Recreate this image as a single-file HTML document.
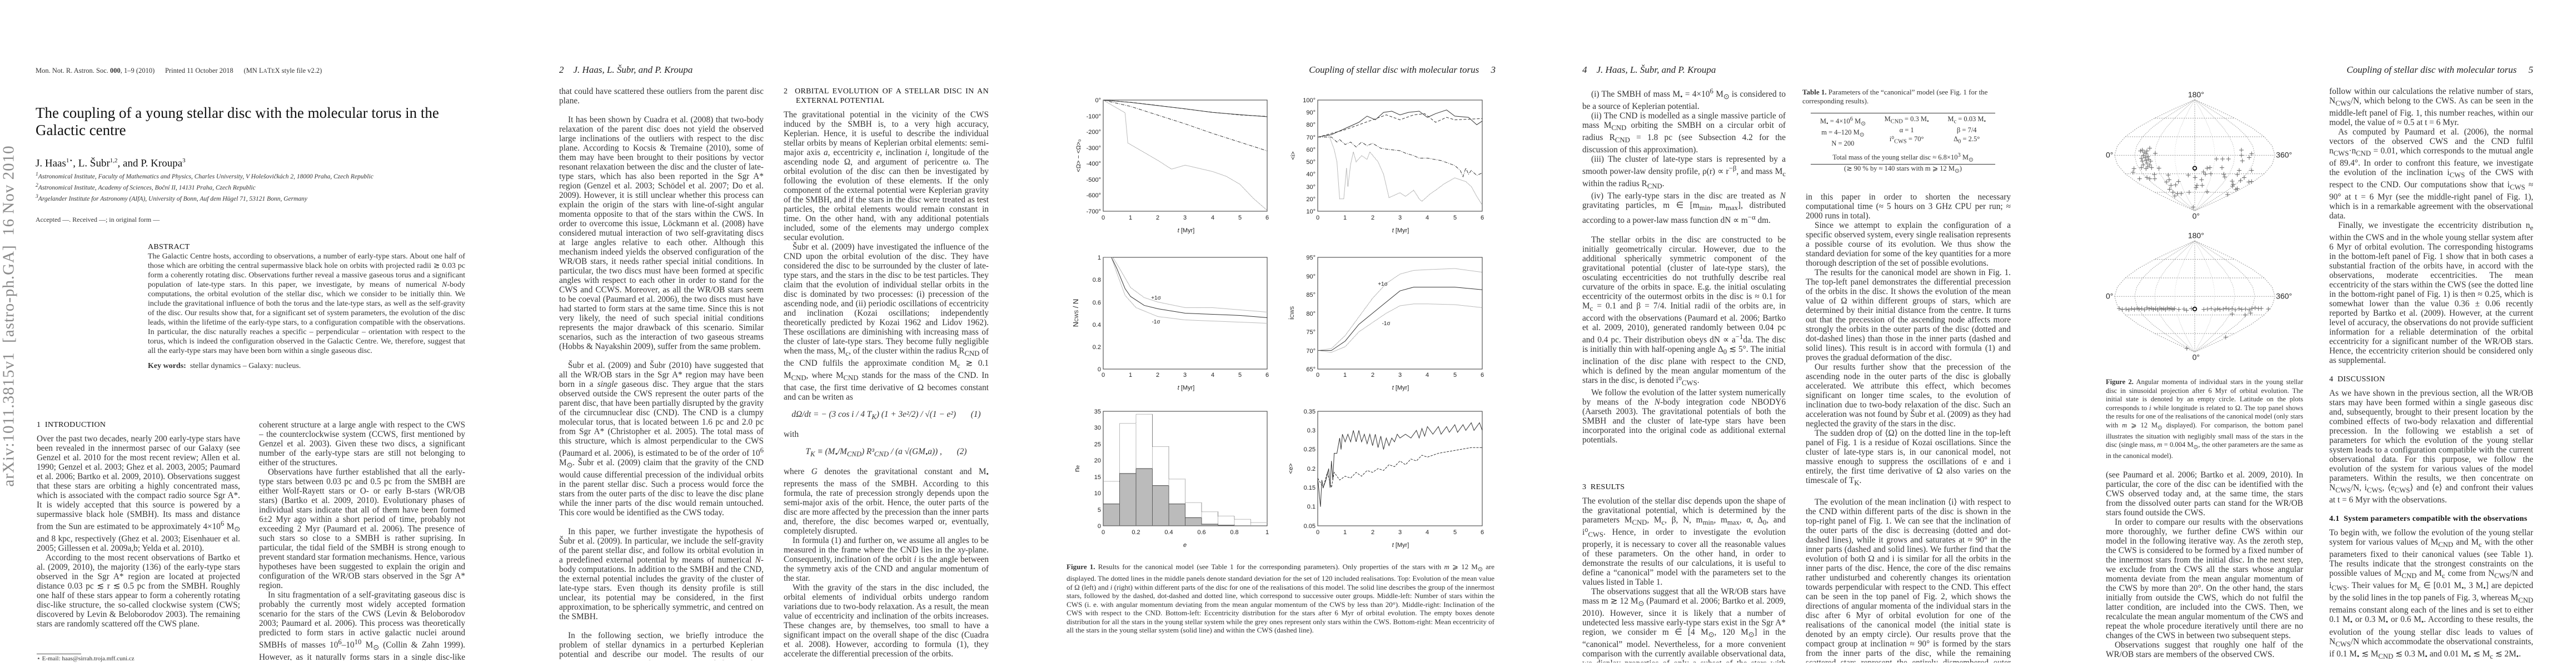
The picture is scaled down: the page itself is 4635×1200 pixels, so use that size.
<!DOCTYPE html>
<html style="width:4635px;height:1200px;overflow:hidden"><head><meta charset="utf-8">
<style>
*{margin:0;padding:0;box-sizing:border-box}
html,body{overflow:hidden}
body{width:4635px;height:1200px;background:#fff;position:relative;font-family:"Liberation Serif",serif;color:#222}
.pg{position:absolute;top:0;width:927px;height:1200px;overflow:hidden}
.ab{position:absolute}
.col{position:absolute;font-size:15.3px;line-height:17px;text-align:justify;overflow:hidden;color:#333}
.col p{text-indent:16px}
.col p.ni{text-indent:0}
.sec{font-size:14px;letter-spacing:0.3px;color:#111;margin:0 0 8px 0;text-indent:0!important}
.gap{height:17px}
.hdr{position:absolute;top:116px;font-size:17px;font-style:italic;color:#222;white-space:nowrap}
.eq{text-align:center;text-indent:0!important;margin:10px 0;font-style:italic}
.cap{position:absolute;font-size:13px;line-height:15.5px;text-align:justify;color:#333}
svg text{font-family:"Liberation Sans",sans-serif;fill:#222}
</style></head><body>

<!-- PAGE 1 -->
<div class="pg" style="left:0">
<div class="ab" style="left:64px;top:120px;font-size:12.5px;color:#333;white-space:nowrap">Mon. Not. R. Astron. Soc. <b>000</b>, 1–9 (2010) &nbsp;&nbsp;&nbsp;&nbsp; Printed 11 October 2018 &nbsp;&nbsp;&nbsp;&nbsp; (MN L<span style="font-size:10px">A</span>T<span style="font-size:10px">E</span>X style file v2.2)</div>
<div class="ab" style="left:64px;top:188px;font-size:27px;line-height:31px;color:#111;width:740px">The coupling of a young stellar disc with the molecular torus in the Galactic centre</div>
<div class="ab" style="left:64px;top:282px;font-size:19px;color:#111">J. Haas<sup style="font-size:11px">1⋆</sup>, L. Šubr<sup style="font-size:11px">1,2</sup>, and P. Kroupa<sup style="font-size:11px">3</sup></div>
<div class="ab" style="left:64px;top:306px;font-size:11.5px;line-height:15px;font-style:italic;color:#333;white-space:nowrap"><sup>1</sup>Astronomical Institute, Faculty of Mathematics and Physics, Charles University, V Holešovičkách 2, 18000 Praha, Czech Republic<br><sup>2</sup>Astronomical Institute, Academy of Sciences, Boční II, 14131 Praha, Czech Republic<br><sup>3</sup>Argelander Institute for Astronomy (AIfA), University of Bonn, Auf dem Hügel 71, 53121 Bonn, Germany</div>
<div class="ab" style="left:64px;top:388px;font-size:12px;color:#333">Accepted —. Received —; in original form —</div>
<div class="ab" style="left:16px;top:570px;width:0;height:0"><div style="position:absolute;left:-310px;top:-18px;width:620px;transform:rotate(-90deg);font-size:29px;color:#8a8a8a;white-space:nowrap;text-align:center;letter-spacing:1px">arXiv:1011.3815v1 &nbsp;[astro-ph.GA] &nbsp;16 Nov 2010</div></div>
<div class="col" style="left:266px;top:436px;width:571px;height:270px;font-size:14px">
<p class="sec">ABSTRACT</p>
<p class="ni" style="margin-top:-8px">The Galactic Centre hosts, according to observations, a number of early-type stars. About one half of those which are orbiting the central supermassive black hole on orbits with projected radii ≳ 0.03 pc form a coherently rotating disc. Observations further reveal a massive gaseous torus and a significant population of late-type stars. In this paper, we investigate, by means of numerical <i>N</i>-body computations, the orbital evolution of the stellar disc, which we consider to be initially thin. We include the gravitational influence of both the torus and the late-type stars, as well as the self-gravity of the disc. Our results show that, for a significant set of system parameters, the evolution of the disc leads, within the lifetime of the early-type stars, to a configuration compatible with the observations. In particular, the disc naturally reaches a specific – perpendicular – orientation with respect to the torus, which is indeed the configuration observed in the Galactic Centre. We, therefore, suggest that all the early-type stars may have been born within a single gaseous disc.</p>
<p class="ni" style="margin-top:10px"><b>Key words:</b> &nbsp;stellar dynamics – Galaxy: nucleus.</p>
</div>
<div class="col" style="left:66px;top:756px;width:366px;height:400px">
<p class="sec">1 &nbsp;INTRODUCTION</p>
<p class="ni">Over the past two decades, nearly 200 early-type stars have been revealed in the innermost parsec of our Galaxy (see Genzel et al. 2010 for the most recent review; Allen et al. 1990; Genzel et al. 2003; Ghez et al. 2003, 2005; Paumard et al. 2006; Bartko et al. 2009, 2010). Observations suggest that these stars are orbiting a highly concentrated mass, which is associated with the compact radio source Sgr A*. It is widely accepted that this source is powered by a supermassive black hole (SMBH). Its mass and distance from the Sun are estimated to be approximately 4×10<sup>6</sup> M<sub>⊙</sub> and 8 kpc, respectively (Ghez et al. 2003; Eisenhauer et al. 2005; Gillessen et al. 2009a,b; Yelda et al. 2010).</p>
<p>According to the most recent observations of Bartko et al. (2009, 2010), the majority (136) of the early-type stars observed in the Sgr A* region are located at projected distance 0.03 pc ≲ r ≲ 0.5 pc from the SMBH. Roughly one half of these stars appear to form a coherently rotating disc-like structure, the so-called clockwise system (CWS; discovered by Levin &amp; Beloborodov 2003). The remaining stars are randomly scattered off the CWS plane.</p>
</div>
<div class="ab" style="left:66px;top:1176px;width:80px;border-top:1px solid #555"></div>
<div class="ab" style="left:66px;top:1179px;font-size:11px;line-height:13px;color:#333">⋆ E-mail: haas@sirrah.troja.mff.cuni.cz</div>
<div class="col" style="left:466px;top:756px;width:371px;height:432px">
<p class="ni">coherent structure at a large angle with respect to the CWS – the counterclockwise system (CCWS, first mentioned by Genzel et al. 2003). Given these two discs, a significant number of the early-type stars are still not belonging to either of the structures.</p>
<p>Observations have further established that all the early-type stars between 0.03 pc and 0.5 pc from the SMBH are either Wolf-Rayett stars or O- or early B-stars (WR/OB stars) (Bartko et al. 2009, 2010). Evolutionary phases of individual stars indicate that all of them have been formed 6±2 Myr ago within a short period of time, probably not exceeding 2 Myr (Paumard et al. 2006). The presence of such stars so close to a SMBH is rather suprising. In particular, the tidal field of the SMBH is strong enough to prevent standard star formation mechanisms. Hence, various hypotheses have been suggested to explain the origin and configuration of the WR/OB stars observed in the Sgr A* region.</p>
<p>In situ fragmentation of a self-gravitating gaseous disc is probably the currently most widely accepted formation scenario for the stars of the CWS (Levin &amp; Beloborodov 2003; Paumard et al. 2006). This process was theoretically predicted to form stars in active galactic nuclei around SMBHs of masses 10<sup>6</sup>–10<sup>10</sup> M<sub>⊙</sub> (Collin &amp; Zahn 1999). However, as it naturally forms stars in a single disc-like structure, it fails to explain the origin of the stars observed outside the CWS.</p>
</div>
</div>

<!-- PAGE 2 -->
<div class="pg" style="left:927px">
<div class="hdr" style="left:79px">2 &nbsp;&nbsp;&nbsp;J. Haas, L. Šubr, and P. Kroupa</div>
<div class="col" style="left:79px;top:156px;width:368px;height:1032px">
<p class="ni">that could have scattered these outliers from the parent disc plane.</p>
<div class="gap"></div>
<p>It has been shown by Cuadra et al. (2008) that two-body relaxation of the parent disc does not yield the observed large inclinations of the outliers with respect to the disc plane. According to Kocsis &amp; Tremaine (2010), some of them may have been brought to their positions by vector resonant relaxation between the disc and the cluster of late-type stars, which has also been reported in the Sgr A* region (Genzel et al. 2003; Schödel et al. 2007; Do et al. 2009). However, it is still unclear whether this process can explain the origin of the stars with line-of-sight angular momenta opposite to that of the stars within the CWS. In order to overcome this issue, Löckmann et al. (2008) have considered mutual interaction of two self-gravitating discs at large angles relative to each other. Although this mechanism indeed yields the observed configuration of the WR/OB stars, it needs rather special initial conditions. In particular, the two discs must have been formed at specific angles with respect to each other in order to stand for the CWS and CCWS. Moreover, as all the WR/OB stars seem to be coeval (Paumard et al. 2006), the two discs must have had started to form stars at the same time. Since this is not very likely, the need of such special initial conditions represents the major drawback of this scenario. Similar scenarios, such as the interaction of two gaseous streams (Hobbs &amp; Nayakshin 2009), suffer from the same problem.</p>
<div class="gap"></div>
<p>Šubr et al. (2009) and Šubr (2010) have suggested that all the WR/OB stars in the Sgr A* region may have been born in a <i>single</i> gaseous disc. They argue that the stars observed outside the CWS represent the outer parts of the parent disc, that have been partially disrupted by the gravity of the circumnuclear disc (CND). The CND is a clumpy molecular torus, that is located between 1.6 pc and 2.0 pc from Sgr A* (Christopher et al. 2005). The total mass of this structure, which is almost perpendicular to the CWS (Paumard et al. 2006), is estimated to be of the order of 10<sup>6</sup> M<sub>⊙</sub>. Šubr et al. (2009) claim that the gravity of the CND would cause differential precession of the individual orbits in the parent stellar disc. Such a process would force the stars from the outer parts of the disc to leave the disc plane while the inner parts of the disc would remain untouched. This core would be identified as the CWS today.</p>
<div class="gap"></div>
<p>In this paper, we further investigate the hypothesis of Šubr et al. (2009). In particular, we include the self-gravity of the parent stellar disc, and follow its orbital evolution in a predefined external potential by means of numerical <i>N</i>-body computations. In addition to the SMBH and the CND, the external potential includes the gravity of the cluster of late-type stars. Even though its density profile is still unclear, its potential may be considered, in the first approximation, to be spherically symmetric, and centred on the SMBH.</p>
<div class="gap"></div>
<p>In the following section, we briefly introduce the problem of stellar dynamics in a perturbed Keplerian potential and describe our model. The results of our calculations are presented in Section 3 and discussed in Section 4. We conclude our work in Section 5.</p>
</div>
<div class="col" style="left:483px;top:156px;width:369px;height:1036px">
<p class="sec" style="padding-left:22px;text-indent:-22px!important">2 &nbsp;ORBITAL EVOLUTION OF A STELLAR DISC IN AN EXTERNAL POTENTIAL</p>
<p class="ni">The gravitational potential in the vicinity of the CWS induced by the SMBH is, to a very high accuracy, Keplerian. Hence, it is useful to describe the individual stellar orbits by means of Keplerian orbital elements: semi-major axis <i>a</i>, eccentricity <i>e</i>, inclination <i>i</i>, longitude of the ascending node Ω, and argument of pericentre ω. The orbital evolution of the disc can then be investigated by following the evolution of these elements. If the only component of the external potential were Keplerian gravity of the SMBH, and if the stars in the disc were treated as test particles, the orbital elements would remain constant in time. On the other hand, with any additional potentials included, some of the elements may undergo complex secular evolution.</p>
<p>Šubr et al. (2009) have investigated the influence of the CND upon the orbital evolution of the disc. They have considered the disc to be surrounded by the cluster of late-type stars, and the stars in the disc to be test particles. They claim that the evolution of individual stellar orbits in the disc is dominated by two processes: (i) precession of the ascending node, and (ii) periodic oscillations of eccentricity and inclination (Kozai oscillations; independently theoretically predicted by Kozai 1962 and Lidov 1962). These oscillations are diminishing with increasing mass of the cluster of late-type stars. They become fully negligible when the mass, M<sub>c</sub>, of the cluster within the radius R<sub>CND</sub> of the CND fulfils the approximate condition M<sub>c</sub> ≳ 0.1 M<sub>CND</sub>, where M<sub>CND</sub> stands for the mass of the CND. In that case, the first time derivative of Ω becomes constant and can be writen as</p>
<p class="eq" style="margin:14px 0">dΩ/dt = − (3 cos i / 4 T<sub>K</sub>) (1 + 3e²/2) / √(1 − e²) &nbsp;&nbsp;&nbsp;&nbsp;&nbsp;&nbsp;(1)</p>
<p class="ni">with</p>
<p class="eq" style="margin:14px 0">T<sub>K</sub> ≡ (M<sub>•</sub>/M<sub>CND</sub>) R³<sub>CND</sub> / (a √(GM<sub>•</sub>a)) , &nbsp;&nbsp;&nbsp;&nbsp;&nbsp;&nbsp;(2)</p>
<p class="ni">where <i>G</i> denotes the gravitational constant and M<sub>•</sub> represents the mass of the SMBH. According to this formula, the rate of precession strongly depends upon the semi-major axis of the orbit. Hence, the outer parts of the disc are more affected by the precession than the inner parts and, therefore, the disc becomes warped or, eventually, completely disrupted.</p>
<p>In formula (1) and further on, we assume all angles to be measured in the frame where the CND lies in the <i>xy</i>-plane. Consequently, inclination of the orbit <i>i</i> is the angle between the symmetry axis of the CND and angular momentum of the star.</p>
<p>With the gravity of the stars in the disc included, the orbital elements of individual orbits undergo random variations due to two-body relaxation. As a result, the mean value of eccentricity and inclination of the orbits increases. These changes are, by themselves, too small to have a significant impact on the overall shape of the disc (Cuadra et al. 2008). However, according to formula (1), they accelerate the differential precession of the orbits.</p>
</div>
</div>

<!-- PAGE 3 -->
<div class="pg" style="left:1854px">
<div class="hdr" style="right:90px">Coupling of stellar disc with molecular torus &nbsp;&nbsp;&nbsp;&nbsp;3</div>
<svg class="ab" style="left:0;top:0" width="927" height="1000" viewBox="0 0 927 1000">
<g fill="none" stroke="#333" stroke-width="1">
<rect x="131" y="180" width="295" height="200"/><rect x="517" y="180" width="296" height="200"/>
<rect x="131" y="463" width="295" height="201"/><rect x="517" y="463" width="296" height="201"/>
<rect x="131" y="740" width="295" height="206"/><rect x="517" y="740" width="296" height="206"/>
</g>
<g font-size="11" text-anchor="end">
<text x="127" y="184">0°</text><text x="127" y="213">-100°</text><text x="127" y="241">-200°</text><text x="127" y="270">-300°</text><text x="127" y="298">-400°</text><text x="127" y="327">-500°</text><text x="127" y="355">-600°</text><text x="127" y="384">-700°</text>
<text x="513" y="184">100°</text><text x="513" y="206">90°</text><text x="513" y="228">80°</text><text x="513" y="251">70°</text><text x="513" y="273">60°</text><text x="513" y="295">50°</text><text x="513" y="317">40°</text><text x="513" y="340">30°</text><text x="513" y="362">20°</text><text x="513" y="384">10°</text>
<text x="127" y="467">1</text><text x="127" y="507">0.8</text><text x="127" y="548">0.6</text><text x="127" y="588">0.4</text><text x="127" y="628">0.2</text><text x="127" y="668">0</text>
<text x="513" y="467">95°</text><text x="513" y="501">90°</text><text x="513" y="534">85°</text><text x="513" y="568">80°</text><text x="513" y="601">75°</text><text x="513" y="635">70°</text><text x="513" y="668">65°</text>
<text x="127" y="744">35</text><text x="127" y="773">30</text><text x="127" y="803">25</text><text x="127" y="832">20</text><text x="127" y="862">15</text><text x="127" y="891">10</text><text x="127" y="921">5</text><text x="127" y="950">0</text>
<text x="513" y="744">0.35</text><text x="513" y="778">0.3</text><text x="513" y="812">0.25</text><text x="513" y="847">0.2</text><text x="513" y="881">0.15</text><text x="513" y="915">0.1</text><text x="513" y="950">0.05</text>
</g>
<g font-size="11" text-anchor="middle">
<text x="131" y="395">0</text><text x="180" y="395">1</text><text x="229" y="395">2</text><text x="278" y="395">3</text><text x="328" y="395">4</text><text x="377" y="395">5</text><text x="426" y="395">6</text>
<text x="517" y="395">0</text><text x="566" y="395">1</text><text x="616" y="395">2</text><text x="665" y="395">3</text><text x="714" y="395">4</text><text x="764" y="395">5</text><text x="813" y="395">6</text>
<text x="131" y="678">0</text><text x="180" y="678">1</text><text x="229" y="678">2</text><text x="278" y="678">3</text><text x="328" y="678">4</text><text x="377" y="678">5</text><text x="426" y="678">6</text>
<text x="517" y="678">0</text><text x="566" y="678">1</text><text x="616" y="678">2</text><text x="665" y="678">3</text><text x="714" y="678">4</text><text x="764" y="678">5</text><text x="813" y="678">6</text>
<text x="131" y="961">0</text><text x="190" y="961">0.2</text><text x="249" y="961">0.4</text><text x="308" y="961">0.6</text><text x="367" y="961">0.8</text><text x="426" y="961">1</text>
<text x="517" y="961">0</text><text x="566" y="961">1</text><text x="616" y="961">2</text><text x="665" y="961">3</text><text x="714" y="961">4</text><text x="764" y="961">5</text><text x="813" y="961">6</text>
<text x="280" y="418"><tspan font-style="italic">t</tspan>  [Myr]</text><text x="666" y="418"><tspan font-style="italic">t</tspan>  [Myr]</text>
<text x="280" y="701"><tspan font-style="italic">t</tspan>  [Myr]</text><text x="666" y="701"><tspan font-style="italic">t</tspan>  [Myr]</text>
<text x="278" y="984" font-style="italic" font-family="Liberation Serif">e</text><text x="666" y="984"><tspan font-style="italic">t</tspan>  [Myr]</text>
<text transform="translate(90,280) rotate(-90)">&lt;Ω&gt; − &lt;Ω&gt;₀</text>
<text transform="translate(476,280) rotate(-90)">&lt;i&gt;</text>
<text transform="translate(86,563) rotate(-90)" font-family="Liberation Serif" font-size="13">N<tspan font-size="9">CWS</tspan> / N</text>
<text transform="translate(474,563) rotate(-90)" font-family="Liberation Serif" font-size="13">i<tspan font-size="9">CWS</tspan></text>
<text transform="translate(88,843) rotate(-90)" font-family="Liberation Serif" font-size="13">n<tspan font-size="9">e</tspan></text>
<text transform="translate(472,843) rotate(-90)">&lt;e&gt;</text>
<text x="226" y="539" font-size="10">+1σ</text><text x="226" y="582" font-size="10">-1σ</text>
<text x="634" y="514" font-size="10">+1σ</text><text x="640" y="585" font-size="10">-1σ</text>
</g>
<g fill="none" stroke="#333" stroke-width="1">
<g transform="translate(131,180) scale(49.17,0.2857)">
<polyline vector-effect="non-scaling-stroke" points="0,0 1,15 2,35 3,55 4,78 5,92 6,105"/>
<polyline vector-effect="non-scaling-stroke" stroke-dasharray="5,3" points="0,0 1,14 2,34 3,56 4,77 5,94 6,103"/>
<polyline vector-effect="non-scaling-stroke" stroke-dasharray="6,2,1,2" points="0,0 1,40 2,95 3,150 4,210 5,265 6,320"/>
<polyline vector-effect="non-scaling-stroke" stroke="#777" stroke-dasharray="1,1" points="0,0 0.8,80 0.9,270 1.2,300 2,380 2.5,435 3,410 3.5,430 4,450 4.5,480 5,530 5.5,620 6,695"/>
</g>
<g transform="translate(517,380) scale(49.33,-2.222) translate(0,-10)">
<polyline vector-effect="non-scaling-stroke" points="0,70 0.5,72 1,77 1.5,82 1.8,87 2.1,84 2.4,90 2.7,91 3,88 3.3,90 3.7,91 4,86 4.3,89 4.7,92 5,87 5.5,86 5.8,80 6,83"/>
<polyline vector-effect="non-scaling-stroke" stroke-dasharray="5,3" points="0,70 1,76 2,84 2.5,88 3,84 3.5,88 3.9,89 4.3,82 4.7,86 5,84 6,85"/>
<polyline vector-effect="non-scaling-stroke" stroke-dasharray="6,2,1,2" points="0,70 0.5,70 0.7,66 0.8,68 1,64 1.2,66 1.4,62 1.6,66 1.8,63 2,65 2.3,61 2.6,60 3,59 3.2,57 3.5,55 3.7,53 4,53 4.5,51 5,47 5.2,43 5.3,38 5.4,45 5.5,40 5.6,43 5.8,39 6,41"/>
<polyline vector-effect="non-scaling-stroke" stroke="#777" stroke-dasharray="1,1" points="0,70 0.4,72 0.6,60 0.7,50 0.75,35 0.8,20 0.95,20 1.05,45 1.1,30 1.2,48 1.3,58 1.4,50 1.6,55 1.8,52 1.9,58 2.2,50 2.4,40 2.6,21 2.8,23 3,25 3.2,22 3.5,27 3.7,20 3.8,18 4.1,24 4.3,27 4.6,32 5,37 5.4,34 5.6,30 5.8,22 6,15"/>
</g>
<g transform="translate(131,664) scale(49.17,-201)">
<polyline vector-effect="non-scaling-stroke" points="0,1 0.3,1 0.5,0.9 0.8,0.72 1,0.65 1.5,0.57 2,0.54 3,0.5 4,0.49 5,0.48 6,0.46"/>
<polyline vector-effect="non-scaling-stroke" stroke="#777" stroke-dasharray="1,1" points="0,1 0.35,1 0.6,0.9 1,0.73 1.5,0.64 2,0.6 3,0.55 4,0.55 5,0.53 6,0.51"/>
<polyline vector-effect="non-scaling-stroke" stroke="#777" stroke-dasharray="1,1" points="0,1 0.3,1 0.5,0.86 0.8,0.66 1.2,0.55 2,0.47 3,0.44 4,0.43 5,0.42 6,0.41"/>
</g>
<g transform="translate(517,664) scale(49.33,-6.7) translate(0,-65)">
<polyline vector-effect="non-scaling-stroke" points="0,70 0.5,70 1,72.5 1.5,77 2,80 2.5,83 3,86 3.5,87 4,87 5,87 6,86.3"/>
<polyline vector-effect="non-scaling-stroke" stroke="#777" stroke-dasharray="1,1" points="0,70 0.5,70.5 1,74 1.5,79 2,84 2.5,88 3,90.5 3.5,91.5 4,91.7 5,92 6,91"/>
<polyline vector-effect="non-scaling-stroke" stroke="#777" stroke-dasharray="1,1" points="0,70 0.5,69.5 1,71 1.5,75 2,77.5 2.5,80 3,82 3.5,82.5 4,82.5 5,82.3 6,81.5"/>
</g>
<g transform="translate(131,946) scale(295,-5.886)">
<path vector-effect="non-scaling-stroke" fill="#bbb" stroke="#444" d="M0,0V6.7H0.1V16H0.2V17.5H0.3V12.3H0.4V6.7H0.5V2.5H0.6V0.5H0.7V0.2H0.8V0Z M0.1,0V16 M0.2,0V17.5 M0.3,0V12.3 M0.4,0V6.7 M0.5,0V2.5"/>
<path vector-effect="non-scaling-stroke" stroke="#777" stroke-dasharray="1,1" d="M0,13.6H0.1V31.3H0.2V34.1H0.3V24.2H0.4V14.3H0.5V7.1H0.6V4.3H0.7V3H0.8V2H0.9V1H1 M0.1,0V13.6 M0.2,0V31.3 M0.3,0V34.1 M0.4,0V24.2 M0.5,0V14.3 M0.6,0V7.1 M0.7,0V4.3 M0.8,0V3 M0.9,0V2"/>
</g>
<g transform="translate(517,946) scale(49.33,-686.7) translate(0,-0.05)">
<polyline vector-effect="non-scaling-stroke" points="0,.175 0.1,.1 0.15,.17 0.2,.15 0.3,.17 0.4,.2 0.45,.15 0.5,.22 0.55,.17 0.6,.24 0.7,.24 0.8,.28 0.85,.25 0.9,.29 1,.27 1.1,.29 1.2,.27 1.3,.3 1.4,.27 1.5,.3 1.6,.27 1.7,.29 1.8,.265 1.9,.29 2,.26 2.1,.29 2.2,.255 2.3,.285 2.4,.25 2.5,.28 2.6,.26 2.7,.28 2.8,.27 2.9,.29 3,.28 3.2,.29 3.4,.28 3.6,.3 3.7,.28 3.8,.305 3.9,.285 4,.31 4.2,.29 4.4,.31 4.5,.29 4.7,.31 4.8,.295 5,.315 5.1,.295 5.3,.315 5.4,.3 5.6,.32 5.7,.3 5.9,.32 6,.3"/>
<polyline vector-effect="non-scaling-stroke" stroke-dasharray="4,2" points="0,.175 0.2,.15 0.35,.19 0.5,.15 0.6,.19 0.8,.17 1,.18 1.2,.175 1.4,.19 1.6,.18 1.8,.195 2,.19 2.2,.2 2.4,.195 2.6,.21 2.8,.205 3,.22 3.2,.21 3.4,.225 3.6,.22 3.8,.235 4,.23 4.4,.24 4.8,.245 5.2,.25 5.6,.255 6,.255"/>
</g>
</g>
</svg>
<div class="cap" style="left:65px;top:1012px;width:770px"><b>Figure 1.</b> Results for the canonical model (see Table 1 for the corresponding parameters). Only properties of the stars with <i>m</i> ⩾ 12 M<sub>⊙</sub> are displayed. The dotted lines in the middle panels denote standard deviation for the set of 120 included realisations. Top: Evolution of the mean value of Ω (left) and <i>i</i> (right) within different parts of the disc for one of the realisations of this model. The solid line describes the group of the innermost stars, followed by the dashed, dot-dashed and dotted line, which correspond to successive outer groups. Middle-left: Number of stars within the CWS (i. e. with angular momentum deviating from the mean angular momentum of the CWS by less than 20°). Middle-right: Inclination of the CWS with respect to the CND. Bottom-left: Eccentricity distribution for the stars after 6 Myr of orbital evolution. The empty boxes denote distribution for all the stars in the young stellar system while the grey ones represent only stars within the CWS. Bottom-right: Mean eccentricity of all the stars in the young stellar system (solid line) and within the CWS (dashed line).</div>
</div>

<!-- PAGE 4 -->
<div class="pg" style="left:2781px">
<div class="hdr" style="left:66px">4 &nbsp;&nbsp;&nbsp;J. Haas, L. Šubr, and P. Kroupa</div>
<div class="col" style="left:66px;top:156px;width:366px;height:1036px">
<p>(i) The SMBH of mass M<sub>•</sub> = 4×10<sup>6</sup> M<sub>⊙</sub> is considered to be a source of Keplerian potential.</p>
<p>(ii) The CND is modelled as a single massive particle of mass M<sub>CND</sub> orbiting the SMBH on a circular orbit of radius R<sub>CND</sub> = 1.8 pc (see Subsection 4.2 for the discussion of this approximation).</p>
<p>(iii) The cluster of late-type stars is represented by a smooth power-law density profile, ρ(r) ∝ r<sup>−β</sup>, and mass M<sub>c</sub> within the radius R<sub>CND</sub>.</p>
<p>(iv) The early-type stars in the disc are treated as <i>N</i> gravitating particles, m ∈ [m<sub>min</sub>, m<sub>max</sub>], distributed according to a power-law mass function dN ∝ m<sup>−α</sup> dm.</p>
<div class="gap"></div>
<p>The stellar orbits in the disc are constructed to be initially geometrically circular. However, due to the additional spherically symmetric component of the gravitational potential (cluster of late-type stars), the osculating eccentricities do not truthfully describe real curvature of the orbits in space. E.g. the initial osculating eccentricity of the outermost orbits in the disc is ≈ 0.1 for M<sub>c</sub> = 0.1 and β = 7/4. Initial radii of the orbits are, in accord with the observations (Paumard et al. 2006; Bartko et al. 2009, 2010), generated randomly between 0.04 pc and 0.4 pc. Their distribution obeys dN ∝ a<sup>−1</sup>da. The disc is initially thin with half-opening angle Δ<sub>0</sub> ≲ 5°. The initial inclination of the disc plane with respect to the CND, which is defined by the mean angular momentum of the stars in the disc, is denoted i⁰<sub>CWS</sub>.</p>
<p>We follow the evolution of the latter system numerically by means of the <i>N</i>-body integration code NBODY6 (Aarseth 2003). The gravitational potentials of both the SMBH and the cluster of late-type stars have been incorporated into the original code as additional external potentials.</p>
<div class="gap"></div><div class="gap"></div><div class="gap"></div><div class="gap"></div>
<p class="sec">3 &nbsp;RESULTS</p>
<p class="ni">The evolution of the stellar disc depends upon the shape of the gravitational potential, which is determined by the parameters M<sub>CND</sub>, M<sub>c</sub>, β, N, m<sub>min</sub>, m<sub>max</sub>, α, Δ<sub>0</sub>, and i⁰<sub>CWS</sub>. Hence, in order to investigate the evolution properly, it is necessary to cover all the reasonable values of these parameters. On the other hand, in order to demonstrate the results of our calculations, it is useful to define a “canonical” model with the parameters set to the values listed in Table 1.</p>
<p>The observations suggest that all the WR/OB stars have mass m ≳ 12 M<sub>⊙</sub> (Paumard et al. 2006; Bartko et al. 2009, 2010). However, since it is likely that a number of undetected less massive early-type stars exist in the Sgr A* region, we consider m ∈ [4 M<sub>⊙</sub>, 120 M<sub>⊙</sub>] in the “canonical” model. Nevertheless, for a more convenient comparison with the currently available observational data, we display properties of only a subset of the stars with mass m ⩾ 12 M<sub>⊙</sub> in figures.</p>
<p>Due to the stochastic nature of the studied system, the results should be averaged over a number of realisations with identical values of the model parameters in order to distinguish general trends from random fluctuations. For this purpose, we first considered 120 realisations of the “canonical” model.</p>
</div>
<div class="ab" style="left:462px;top:158px;width:375px;font-size:13px;line-height:16px;color:#333"><b>Table 1.</b> Parameters of the “canonical” model (see Fig. 1 for the corresponding results).</div>
<div class="ab" style="left:477px;top:203px;width:332px;border-top:1.5px solid #333"></div>
<div class="ab" style="left:477px;top:207px;width:332px;font-size:12.5px;line-height:15.5px;color:#333">
<div style="display:flex;justify-content:space-around;text-align:center"><div>M<sub>•</sub> = 4×10<sup>6</sup> M<sub>⊙</sub><br>m = 4–120 M<sub>⊙</sub><br>N = 200</div><div>M<sub>CND</sub> = 0.3 M<sub>•</sub><br>α = 1<br>i⁰<sub>CWS</sub> = 70°</div><div>M<sub>c</sub> = 0.03 M<sub>•</sub><br>β = 7/4<br>Δ<sub>0</sub> = 2.5°</div></div>
<div style="text-align:center;margin-top:5px">Total mass of the young stellar disc ≈ 6.8×10<sup>3</sup> M<sub>⊙</sub><br>(≳ 90 % by ≈ 140 stars with m ⩾ 12 M<sub>⊙</sub>)</div>
</div>
<div class="ab" style="left:477px;top:295px;width:332px;border-top:1.5px solid #333"></div>
<div class="col" style="left:468px;top:346px;width:369px;height:846px">
<p class="ni">in this paper in order to shorten the necessary computational time (≈ 5 hours on 3 GHz CPU per run; ≈ 2000 runs in total).</p>
<p>Since we attempt to explain the configuration of a specific observed system, every single realisation represents a possible course of its evolution. We thus show the standard deviation for some of the key quantities for a more thorough description of the set of possible evolutions.</p>
<p>The results for the canonical model are shown in Fig. 1. The top-left panel demonstrates the differential precession of the orbits in the disc. It shows the evolution of the mean value of Ω within different groups of stars, which are determined by their initial distance from the centre. It turns out that the precession of the ascending node affects more strongly the orbits in the outer parts of the disc (dotted and dot-dashed lines) than those in the inner parts (dashed and solid lines). This result is in accord with formula (1) and proves the gradual deformation of the disc.</p>
<p>Our results further show that the precession of the ascending node in the outer parts of the disc is globally accelerated. We attribute this effect, which becomes significant on longer time scales, to the evolution of inclination due to two-body relaxation of the disc. Such an acceleration was not found by Šubr et al. (2009) as they had neglected the gravity of the stars in the disc.</p>
<p>The sudden drop of ⟨Ω⟩ on the dotted line in the top-left panel of Fig. 1 is a residue of Kozai oscillations. Since the cluster of late-type stars is, in our canonical model, not massive enough to suppress the oscillations of e and i entirely, the first time derivative of Ω also varies on the timescale of T<sub>K</sub>.</p>
<div class="gap"></div>
<p>The evolution of the mean inclination ⟨i⟩ with respect to the CND within different parts of the disc is shown in the top-right panel of Fig. 1. We can see that the inclination of the outer parts of the disc is decreasing (dotted and dot-dashed lines), while it grows and saturates at ≈ 90° in the inner parts (dashed and solid lines). We further find that the evolution of both Ω and i is similar for all the orbits in the inner parts of the disc. Hence, the core of the disc remains rather undisturbed and coherently changes its orientation towards perpendicular with respect to the CND. This effect can be seen in the top panel of Fig. 2, which shows the directions of angular momenta of the individual stars in the disc after 6 Myr of orbital evolution for one of the realisations of the canonical model (the initial state is denoted by an empty circle). Our results prove that the compact group at inclination ≈ 90° is formed by the stars from the inner parts of the disc, while the remaining scattered stars represent the entirely dismembered outer parts.</p>
</div>
</div>

<!-- PAGE 5 -->
<div class="pg" style="left:3708px">
<div class="hdr" style="right:77px">Coupling of stellar disc with molecular torus &nbsp;&nbsp;&nbsp;&nbsp;5</div>
<svg class="ab" style="left:0;top:0" width="500" height="680" viewBox="0 0 500 680">
<defs><path id="mer" d="M0,-300 L112,-250 216.5,-200 306,-150 375,-100 418,-50 433,0 418,50 375,100 306,150 216.5,200 112,250 0,300"/></defs>
<g transform="translate(241,150) scale(0.3333) translate(-508,0)">
<g fill="none" stroke="#999" stroke-width="3" stroke-dasharray="6,6">
<g transform="translate(508,388)">
<use href="#mer"/><use href="#mer" transform="scale(-1,1)"/><use href="#mer" transform="scale(0.75,1)"/><use href="#mer" transform="scale(-0.75,1)"/><use href="#mer" transform="scale(0.5,1)"/><use href="#mer" transform="scale(-0.5,1)"/><use href="#mer" transform="scale(0.25,1)"/><use href="#mer" transform="scale(-0.25,1)"/>
<path d="M0,-300V300M-433,0H433M-375,-100H375M-375,100H375M-216,-200H216M-216,200H216"/>
</g>
<g transform="translate(508,1150)">
<use href="#mer"/><use href="#mer" transform="scale(-1,1)"/><use href="#mer" transform="scale(0.75,1)"/><use href="#mer" transform="scale(-0.75,1)"/><use href="#mer" transform="scale(0.5,1)"/><use href="#mer" transform="scale(-0.5,1)"/><use href="#mer" transform="scale(0.25,1)"/><use href="#mer" transform="scale(-0.25,1)"/>
<path d="M0,-300V300M-433,0H433M-375,-100H375M-375,100H375M-216,-200H216M-216,200H216"/>
</g>
</g>
<g fill="none" stroke="#666" stroke-width="3">
<path d="M203,365h24m-12,-12v24 M213,360h24m-12,-12v24 M223,372h24m-12,-12v24 M238,365h24m-12,-12v24 M253,350h24m-12,-12v24 M233,380h24m-12,-12v24 M218,390h24m-12,-12v24 M243,395h24m-12,-12v24 M228,400h24m-12,-12v24 M208,405h24m-12,-12v24 M248,410h24m-12,-12v24 M233,415h24m-12,-12v24 M213,420h24m-12,-12v24 M258,420h24m-12,-12v24 M238,430h24m-12,-12v24 M253,440h24m-12,-12v24 M218,440h24m-12,-12v24 M243,450h24m-12,-12v24 M263,455h24m-12,-12v24 M208,455h24m-12,-12v24 M233,460h24m-12,-12v24 M283,378h24m-12,-12v24 M303,458h24m-12,-12v24 M168,460h24m-12,-12v24 M163,480h24m-12,-12v24 M278,492h24m-12,-12v24 M198,515h24m-12,-12v24 M238,508h24m-12,-12v24 M253,515h24m-12,-12v24 M280,515h24m-12,-12v24 M353,495h24m-12,-12v24 M358,520h24m-12,-12v24 M343,532h24m-12,-12v24 M368,550h24m-12,-12v24 M393,548h24m-12,-12v24 M408,530h24m-12,-12v24 M360,572h24m-12,-12v24 M378,588h24m-12,-12v24 M388,608h24m-12,-12v24 M403,595h24m-12,-12v24 M423,595h24m-12,-12v24 M466,588h24m-12,-12v24 M488,668h24m-12,-12v24 M461,495h24m-12,-12v24 M498,508h24m-12,-12v24 M533,520h24m-12,-12v24 M508,550h24m-12,-12v24 M503,563h24m-12,-12v24 M536,550h24m-12,-12v24 M563,585h24m-12,-12v24 M543,478h24m-12,-12v24 M553,490h24m-12,-12v24 M563,458h24m-12,-12v24 M578,455h24m-12,-12v24 M583,488h24m-12,-12v24 M643,455h24m-12,-12v24 M613,408h24m-12,-12v24 M646,408h24m-12,-12v24 M678,408h24m-12,-12v24 M653,490h24m-12,-12v24 M658,505h24m-12,-12v24 M673,600h24m-12,-12v24 M698,528h24m-12,-12v24 M703,545h24m-12,-12v24 M700,555h24m-12,-12v24 M726,568h24m-12,-12v24 M718,573h24m-12,-12v24 M726,492h24m-12,-12v24 M736,470h24m-12,-12v24 M743,525h24m-12,-12v24 M763,508h24m-12,-12v24 M788,532h24m-12,-12v24 M803,530h24m-12,-12v24 M803,470h24m-12,-12v24 M790,400h24m-12,-12v24 M803,380h24m-12,-12v24 M748,360h24m-12,-12v24 M748,388h24m-12,-12v24 M753,418h24m-12,-12v24"/>
<path d="M88,1215h24m-12,-12v24 M105,1220h24m-12,-12v24 M125,1218h24m-12,-12v24 M140,1222h24m-12,-12v24 M155,1216h24m-12,-12v24 M170,1220h24m-12,-12v24 M185,1214h24m-12,-12v24 M195,1219h24m-12,-12v24 M210,1216h24m-12,-12v24 M225,1222h24m-12,-12v24 M238,1212h24m-12,-12v24 M250,1218h24m-12,-12v24 M262,1214h24m-12,-12v24 M272,1220h24m-12,-12v24 M284,1216h24m-12,-12v24 M296,1222h24m-12,-12v24 M308,1214h24m-12,-12v24 M318,1219h24m-12,-12v24 M328,1216h24m-12,-12v24 M338,1221h24m-12,-12v24 M348,1213h24m-12,-12v24 M358,1218h24m-12,-12v24 M368,1215h24m-12,-12v24 M378,1220h24m-12,-12v24 M386,1216h24m-12,-12v24 M410,1220h24m-12,-12v24 M438,1218h24m-12,-12v24 M452,1225h24m-12,-12v24 M478,1216h24m-12,-12v24 M545,1220h24m-12,-12v24 M565,1218h24m-12,-12v24 M585,1216h24m-12,-12v24 M605,1222h24m-12,-12v24 M620,1216h24m-12,-12v24 M632,1220h24m-12,-12v24 M650,1218h24m-12,-12v24 M665,1214h24m-12,-12v24 M680,1219h24m-12,-12v24 M698,1216h24m-12,-12v24 M715,1222h24m-12,-12v24 M735,1216h24m-12,-12v24 M750,1220h24m-12,-12v24 M770,1218h24m-12,-12v24 M790,1222h24m-12,-12v24 M805,1215h24m-12,-12v24 M822,1212h24m-12,-12v24 M840,1216h24m-12,-12v24 M855,1215h24m-12,-12v24 M893,1218h24m-12,-12v24 M698,1245h24m-12,-12v24 M768,1250h24m-12,-12v24 M798,1240h24m-12,-12v24 M663,1370h24m-12,-12v24 M453,1430h24m-12,-12v24"/>
</g>
<g fill="none" stroke="#000" stroke-width="5"><circle cx="508" cy="458" r="10"/><circle cx="508" cy="1218" r="10"/></g>
<g font-size="42" text-anchor="middle">
<text x="515" y="75">180°</text><text x="515" y="730">0°</text><text x="48" y="400">0°</text><text x="990" y="400">360°</text>
<text x="515" y="835">180°</text><text x="515" y="1492">0°</text><text x="48" y="1162">0°</text><text x="990" y="1162">360°</text>
</g>
</g>
</svg>
<div class="cap" style="left:81px;top:680px;width:355px;font-size:12.5px;line-height:15.5px"><b>Figure 2.</b> Angular momenta of individual stars in the young stellar disc in sinusoidal projection after 6 Myr of orbital evolution. The initial state is denoted by an empty circle. Latitude on the plots corresponds to <i>i</i> while longitude is related to Ω. The top panel shows the results for one of the realisations of the canonical model (only stars with <i>m</i> ⩾ 12 M<sub>⊙</sub> displayed). For comparison, the bottom panel illustrates the situation with negligibly small mass of the stars in the disc (single mass, <i>m</i> = 0.004 M<sub>⊙</sub>, the other parameters are the same as in the canonical model).</div>
<div class="col" style="left:81px;top:846px;width:355px;height:340px">
<p class="ni">(see Paumard et al. 2006; Bartko et al. 2009, 2010). In particular, the core of the disc can be identified with the CWS observed today and, at the same time, the stars from the dissolved outer parts can stand for the WR/OB stars found outside the CWS.</p>
<p>In order to compare our results with the observations more thoroughly, we further define CWS within our model in the following iterative way. As the zeroth step, the CWS is considered to be formed by a fixed number of the innermost stars from the initial disc. In the next step, we exclude from the CWS all the stars whose angular momenta deviate from the mean angular momentum of the CWS by more than 20°. On the other hand, the stars initially from outside the CWS, which do not fulfil the latter condition, are included into the CWS. Then, we recalculate the mean angular momentum of the CWS and repeat the whole procedure iteratively until there are no changes of the CWS in between two subsequent steps.</p>
<p>Observations suggest that roughly one half of the WR/OB stars are members of the observed CWS.</p>
</div>
<div class="col" style="left:483px;top:156px;width:367px;height:1036px">
<p class="ni">follow within our calculations the relative number of stars, N<sub>CWS</sub>/N, which belong to the CWS. As can be seen in the middle-left panel of Fig. 1, this number reaches, within our model, the value of ≈ 0.5 at t = 6 Myr.</p>
<p>As computed by Paumard et al. (2006), the normal vectors of the observed CWS and the CND fulfil n<sub>CWS</sub>·n<sub>CND</sub> = 0.01, which corresponds to the mutual angle of 89.4°. In order to confront this feature, we investigate the evolution of the inclination i<sub>CWS</sub> of the CWS with respect to the CND. Our computations show that i<sub>CWS</sub> ≈ 90° at t = 6 Myr (see the middle-right panel of Fig. 1), which is in a remarkable agreement with the observational data.</p>
<p>Finally, we investigate the eccentricity distribution n<sub>e</sub> within the CWS and in the whole young stellar system after 6 Myr of orbital evolution. The corresponding histograms in the bottom-left panel of Fig. 1 show that in both cases a substantial fraction of the orbits have, in accord with the observations, moderate eccentricities. The mean eccentricity of the stars within the CWS (see the dotted line in the bottom-right panel of Fig. 1) is then ≈ 0.25, which is somewhat lower than the value 0.36 ± 0.06 recently reported by Bartko et al. (2009). However, at the current level of accuracy, the observations do not provide sufficient information for a reliable determination of the orbital eccentricity for a significant number of the WR/OB stars. Hence, the eccentricity criterion should be considered only as supplemental.</p>
<div class="gap"></div>
<p class="sec">4 &nbsp;DISCUSSION</p>
<p class="ni">As we have shown in the previous section, all the WR/OB stars may have been formed within a single gaseous disc and, subsequently, brought to their present location by the combined effects of two-body relaxation and differential precession. In the following we establish a set of parameters for which the evolution of the young stellar system leads to a configuration compatible with the current observational data. For this purpose, we follow the evolution of the system for various values of the model parameters. Within the results, we then concentrate on N<sub>CWS</sub>/N, i<sub>CWS</sub>, ⟨e<sub>CWS</sub>⟩ and ⟨e⟩ and confront their values at t = 6 Myr with the observations.</p>
<div class="gap"></div>
<p class="sec" style="font-weight:bold;padding-left:28px;text-indent:-28px!important">4.1 &nbsp;System parameters compatible with the observations</p>
<p class="ni">To begin with, we follow the evolution of the young stellar system for various values of M<sub>CND</sub> and M<sub>c</sub> with the other parameters fixed to their canonical values (see Table 1). The results indicate that the strongest constraints on the possible values of M<sub>CND</sub> and M<sub>c</sub> come from N<sub>CWS</sub>/N and i<sub>CWS</sub>. Their values for M<sub>c</sub> ∈ [0.01 M<sub>•</sub>, 3 M<sub>•</sub>] are depicted by the solid lines in the top panels of Fig. 3, whereas M<sub>CND</sub> remains constant along each of the lines and is set to either 0.1 M<sub>•</sub> or 0.3 M<sub>•</sub> or 0.6 M<sub>•</sub>. According to these results, the evolution of the young stellar disc leads to values of N<sub>CWS</sub>/N which accommodate the observational constraints, if 0.1 M<sub>•</sub> ≲ M<sub>CND</sub> ≲ 0.3 M<sub>•</sub> and 0.01 M<sub>•</sub> ≲ M<sub>c</sub> ≲ 2M<sub>•</sub>.</p>
</div>
</div>
</body></html>
